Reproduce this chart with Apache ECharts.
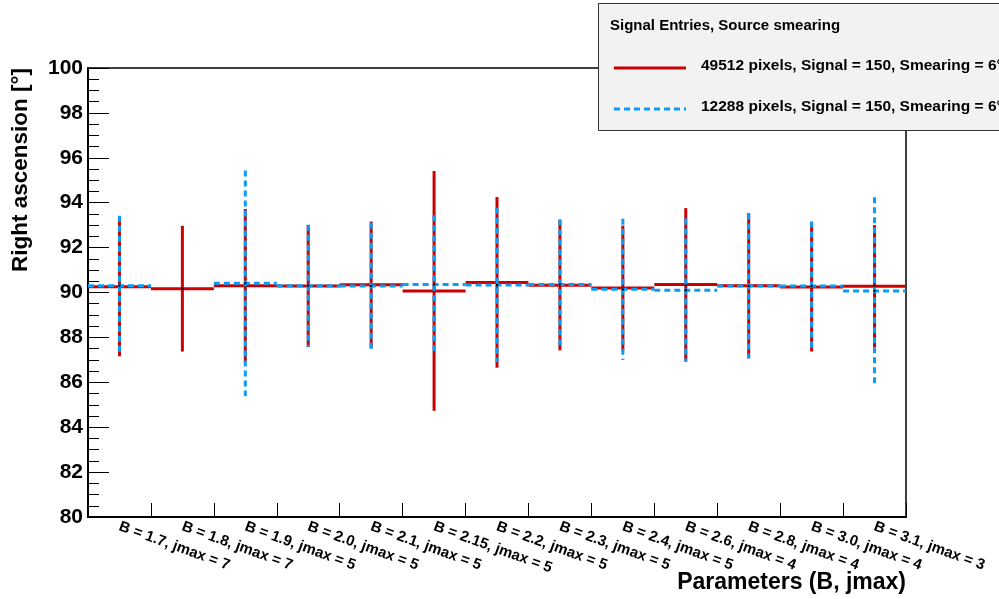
<!DOCTYPE html>
<html>
<head>
<meta charset="utf-8">
<style>
  html, body { margin: 0; padding: 0; background: #fff; }
  #chart { width: 999px; height: 599px; }
</style>
<script src="https://cdn.jsdelivr.net/npm/echarts@6/dist/echarts.min.js"></script>
</head>
<body>
<div id="chart"></div>
<script>
// Parameter sets (B, jmax) along the x axis
const categories = [
  'B = 1.7, jmax = 7', 'B = 1.8, jmax = 7', 'B = 1.9, jmax = 5', 'B = 2.0, jmax = 5',
  'B = 2.1, jmax = 5', 'B = 2.15, jmax = 5', 'B = 2.2, jmax = 5', 'B = 2.3, jmax = 5',
  'B = 2.4, jmax = 5', 'B = 2.6, jmax = 4', 'B = 2.8, jmax = 4', 'B = 3.0, jmax = 4',
  'B = 3.1, jmax = 3'
];

// Reconstructed right ascension [deg] and its uncertainty, 49512-pixel map
const redValues = [90.26, 90.17, 90.30, 90.29, 90.34, 90.07, 90.45, 90.32, 90.20, 90.36, 90.30, 90.24, 90.28];
const redErrors = [3.10, 2.80, 3.42, 2.72, 2.82, 5.34, 3.80, 2.90, 2.78, 3.40, 3.23, 2.87, 2.72];

// Same for the 12288-pixel map (no entry for B = 1.8)
const blueValues = [90.30, null, 90.41, 90.30, 90.29, 90.36, 90.33, 90.36, 90.14, 90.10, 90.29, 90.29, 90.07];
const blueErrors = [3.12, null, 5.02, 2.72, 2.82, 3.08, 3.44, 2.90, 3.15, 3.20, 3.23, 2.87, 4.17];

// Y axis range and tick step
const yMin = 80, yMax = 100, yStep = 2;

const legendTitle = 'Signal Entries, Source smearing';
const redName = '49512 pixels, Signal = 150, Smearing = 6°';
const blueName = '12288 pixels, Signal = 150, Smearing = 6°';

const RED = '#cc0000';
const BLUE = '#0a9cf6';
const FONT = '"Liberation Sans", Arial, Helvetica, sans-serif';

function toData(vals, errs) {
  const out = [];
  vals.forEach((v, i) => { if (v != null) out.push([i, v, errs[i]]); });
  return out;
}

// Histogram-style mark: horizontal step across the bin plus vertical error bar
function makeRenderer(color, dash) {
  return function (params, api) {
    const x = api.value(0), y = api.value(1), e = api.value(2);
    const c = api.coord([x, y]);
    const w = api.size([1, 0])[0];
    const top = api.coord([x, y + e]);
    const bot = api.coord([x, y - e]);
    const style = { stroke: color, lineWidth: 3, lineDash: dash, fill: null };
    return {
      type: 'group',
      children: [
        { type: 'line', shape: { x1: c[0] - w / 2, y1: c[1], x2: c[0] + w / 2, y2: c[1] }, style: style },
        { type: 'line', shape: { x1: c[0], y1: top[1], x2: c[0], y2: bot[1] }, style: style },
        { type: 'rect', shape: { x: c[0] - 1, y: c[1] - 1, width: 2, height: 2 }, style: { fill: '#000' } }
      ]
    };
  };
}

const chart = echarts.init(document.getElementById('chart'), null, { renderer: 'canvas' });

chart.setOption({
  animation: false,
  backgroundColor: '#ffffff',
  grid: {
    left: 88, right: 93, top: 68, bottom: 82,
    show: true, borderColor: '#000', borderWidth: 1.5, backgroundColor: 'transparent'
  },
  xAxis: {
    type: 'category',
    data: categories,
    boundaryGap: true,
    axisLine: { show: true, lineStyle: { color: '#000', width: 2 } },
    axisTick: { show: true, inside: true, length: 14, alignWithLabel: false, interval: 0, lineStyle: { color: '#000', width: 1 } },
    axisLabel: {
      show: true, interval: 0, rotate: -20, margin: 9, hideOverlap: false,
      fontFamily: FONT, fontWeight: 'bold', fontSize: 15, color: '#000'
    },
    splitLine: { show: false }
  },
  yAxis: {
    type: 'value',
    min: yMin, max: yMax, interval: yStep,
    axisLine: { show: true, lineStyle: { color: '#000', width: 2 } },
    axisTick: { show: true, inside: true, length: 21, lineStyle: { color: '#000', width: 1 } },
    minorTick: { show: true, splitNumber: 4, length: 11, lineStyle: { color: '#000', width: 1 } },
    axisLabel: { margin: 5, fontFamily: FONT, fontWeight: 'bold', fontSize: 21, color: '#000' },
    splitLine: { show: false }
  },
  series: [
    {
      type: 'custom',
      name: redName,
      renderItem: makeRenderer(RED, null),
      data: toData(redValues, redErrors),
      encode: { x: 0, y: 1 },
      z: 2
    },
    {
      type: 'custom',
      name: blueName,
      renderItem: makeRenderer(BLUE, [6, 4]),
      data: toData(blueValues, blueErrors),
      encode: { x: 0, y: 1 },
      z: 3
    }
  ],
  graphic: [
    // axis titles
    {
      type: 'text', x: 21, y: 170, rotation: Math.PI / 2,
      style: { text: 'Right ascension [°]', fontFamily: FONT, fontWeight: 'bold', fontSize: 22.5,
               fill: '#000', align: 'center', verticalAlign: 'middle' }
    },
    {
      type: 'text', x: 906, y: 583,
      style: { text: 'Parameters (B, jmax)', fontFamily: FONT, fontWeight: 'bold', fontSize: 23,
               fill: '#000', align: 'right', verticalAlign: 'middle' }
    },
    // legend box
    {
      type: 'group', z: 100,
      children: [
        { type: 'rect', shape: { x: 598.5, y: 3.5, width: 420, height: 127 },
          style: { fill: '#f2f2f2', stroke: '#333', lineWidth: 1 } },
        { type: 'text', x: 610, y: 26,
          style: { text: legendTitle, fontFamily: FONT, fontWeight: 'bold', fontSize: 15, fill: '#000', verticalAlign: 'middle' } },
        { type: 'line', shape: { x1: 614, y1: 68, x2: 686, y2: 68 },
          style: { stroke: RED, lineWidth: 3 } },
        { type: 'text', x: 701, y: 66,
          style: { text: redName, fontFamily: FONT, fontWeight: 'bold', fontSize: 15.5, fill: '#000', verticalAlign: 'middle' } },
        { type: 'line', shape: { x1: 614, y1: 109, x2: 686, y2: 109 },
          style: { stroke: BLUE, lineWidth: 3, lineDash: [6, 4] } },
        { type: 'text', x: 701, y: 107,
          style: { text: blueName, fontFamily: FONT, fontWeight: 'bold', fontSize: 15.5, fill: '#000', verticalAlign: 'middle' } }
      ]
    }
  ]
});
</script>
</body>
</html>
